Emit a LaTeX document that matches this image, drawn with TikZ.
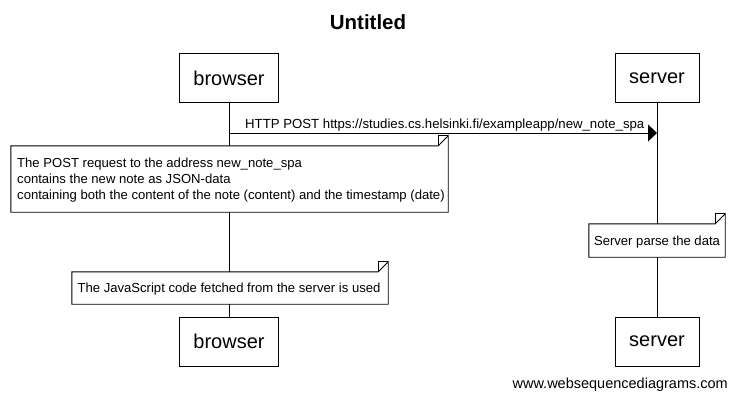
\documentclass[tikz,border=0pt]{standalone}
\usepackage{fontspec}
\setmainfont{Liberation Sans}
\usetikzlibrary{arrows.meta,calc}
\tikzset{
  actor/.style={draw, fill=white, line width=0.9pt, inner sep=0pt, minimum height=49pt, font=\fontsize{20}{20}\selectfont},
  life/.style={line width=0.9pt},
  notearea/.style={inner sep=0pt},
  notebox/.style={inner sep=0pt, align=left, font=\fontsize{13.1}{16}\selectfont},
  noteline/.style={draw, fill=white, line width=0.9pt},
  msg/.style={line width=0.9pt, -{Triangle[length=9pt,width=17pt]}},
  msglabel/.style={font=\fontsize{13.2}{13.2}\selectfont, anchor=base west, inner sep=0pt},
}
\newcommand{\dognote}[2]{% name, fold
  \draw[noteline] (#1.north west) -- ($(#1.north east)+(-#2,0)$) -- ($(#1.north east)+(0,-#2)$) -- (#1.south east) -- (#1.south west) -- cycle;
  \draw[line width=0.9pt] ($(#1.north east)+(-#2,0)$) -- ($(#1.north east)+(-#2,-#2)$) -- ($(#1.north east)+(0,-#2)$);
}
\begin{document}
\begin{tikzpicture}[x=1pt,y=-1pt]
\useasboundingbox (0,0) rectangle (735,400);
\fill[white] (0,0) rectangle (735,400);
\node[font=\bfseries\fontsize{20.5}{20.5}\selectfont] (title) at (368,22) {Untitled};
% actors
\node[actor, minimum width=99pt] (bt) at (229,78) {browser};
\node[actor, minimum width=84pt] (st) at (657,78) {server};
\node[actor, minimum width=99pt] (bb) at (229,341.5) {browser};
\node[actor, minimum width=84pt] (sb) at (657,341.5) {server};
% lifelines
\draw[life] (bt.south) -- (bb.north);
\draw[life] (st.south) -- (sb.north);
% message
\coordinate (m1) at (229,133);
\coordinate (m2) at (657,133);
\draw[msg] (m1) -- (m2);
\node[msglabel] (ml) at (245,128) {HTTP POST https://studies.cs.helsinki.fi/exampleapp/new\_note\_spa};
% note 1
\node[notearea, minimum width=437pt, minimum height=66pt] (n1) at (229.5,179) {};
\dognote{n1}{10}
\node[notebox, anchor=west] (n1t) at (17,180) {The POST request to the address new\_note\_spa\\contains the new note as JSON-data\\containing both the content of the note (content) and the timestamp (date)};
% note server
\node[notearea, minimum width=136pt, minimum height=33pt] (n3) at (657,240.5) {};
\dognote{n3}{10}
\node[notebox] (n3t) at (657,242) {Server parse the data};
% note 2
\node[notearea, minimum width=316pt, minimum height=32pt] (n2) at (230,288) {};
\dognote{n2}{10}
\node[notebox] (n2t) at (229,289) {The JavaScript code fetched from the server is used};
% watermark
\node[font=\fontsize{14.5}{14.5}\selectfont, anchor=east, inner sep=0pt] (wm) at (728,385) {www.websequencediagrams.com};
\end{tikzpicture}
\end{document}
